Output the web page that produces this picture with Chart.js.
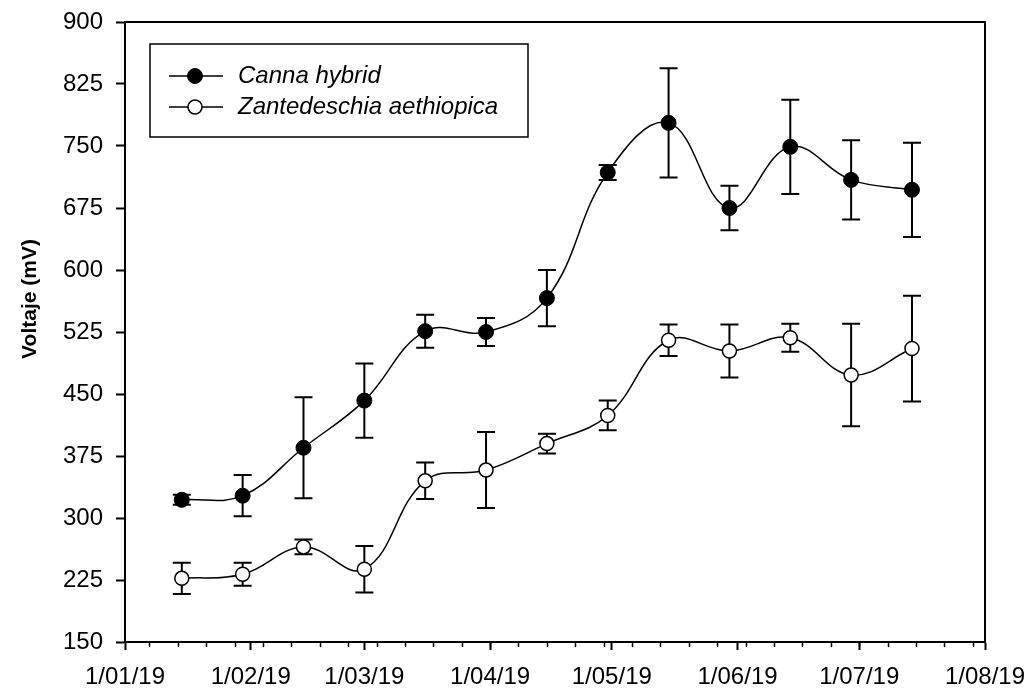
<!DOCTYPE html>
<html lang="es">
<head>
<meta charset="UTF-8">
<title>Voltaje (mV)</title>
<script src="https://cdn.jsdelivr.net/npm/chart.js"></script>
<style>
    body { margin: 0; background: #fff; }
    #wrap { position: relative; width: 1031px; height: 690px; }
</style>
</head>
<body>
<div id="wrap"><canvas id="chart" width="1031" height="690"></canvas></div>
<script>
// sampling dates (every 15 days)
const sampleDates = ['2019-01-15', '2019-01-30', '2019-02-14', '2019-03-01', '2019-03-16', '2019-03-31', '2019-04-15',
                     '2019-04-30', '2019-05-15', '2019-05-30', '2019-06-14', '2019-06-29', '2019-07-14'];

const cannaValues = [322, 327, 385, 442, 526, 525, 566, 718, 778, 675, 749, 709, 697];
const cannaErrors = [6, 25, 61, 45, 20, 17, 34, 9, 66, 27, 57, 48, 57];

const zanteValues = [227, 232, 265, 238, 345, 358, 390, 424, 515, 502, 518, 473, 505];
const zanteErrors = [19, 14, 9, 28, 22, 46, 12, 18, 19, 32, 17, 62, 64];

const seriesNames = ['Canna hybrid', 'Zantedeschia aethiopica'];

const monthTicks = ['2019-01-01', '2019-02-01', '2019-03-01', '2019-04-01', '2019-05-01', '2019-06-01', '2019-07-01', '2019-08-01'];
const monthLabels = ['1/01/19', '1/02/19', '1/03/19', '1/04/19', '1/05/19', '1/06/19', '1/07/19', '1/08/19'];
const firstMonday = '2019-01-07';
const yTicks = [150, 225, 300, 375, 450, 525, 600, 675, 750, 825, 900];

const origin = Date.UTC(2019, 0, 1);
function dayOf(s) {
    const [yy, mm, dd] = s.split('-').map(Number);
    return (Date.UTC(yy, mm - 1, dd) - origin) / 86400000;
}

const monthDays = monthTicks.map(dayOf);
const mondays = [];
for (let d = dayOf(firstMonday); d < monthDays[monthDays.length - 1]; d += 7) mondays.push(d);

const FONT = 'Arial, "Liberation Sans", sans-serif';
Chart.defaults.font.family = FONT;
Chart.defaults.color = '#000';

// vertical error bars, drawn under the markers
const errorBars = {
    id: 'errorBars',
    beforeDatasetsDraw(chart) {
        const { ctx, scales: { x, y } } = chart;
        ctx.save();
        ctx.strokeStyle = '#000';
        ctx.lineWidth = 2;
        chart.data.datasets.forEach(ds => {
            ds.data.forEach((p, i) => {
                const e = ds.errors[i];
                const px = x.getPixelForValue(p.x);
                const top = y.getPixelForValue(p.y + e);
                const bot = y.getPixelForValue(p.y - e);
                ctx.beginPath();
                ctx.moveTo(px, top); ctx.lineTo(px, bot);
                ctx.moveTo(px - 9, top); ctx.lineTo(px + 9, top);
                ctx.moveTo(px - 9, bot); ctx.lineTo(px + 9, bot);
                ctx.stroke();
            });
        });
        ctx.restore();
    }
};

// frame, weekly minor ticks, y title and boxed legend
const decorations = {
    id: 'decorations',
    afterDraw(chart) {
        const { ctx, chartArea: a, scales: { x } } = chart;
        ctx.save();
        ctx.strokeStyle = '#000';
        ctx.lineWidth = 2;
        ctx.beginPath();
        ctx.moveTo(a.left, a.top); ctx.lineTo(a.right, a.top); ctx.lineTo(a.right, a.bottom);
        ctx.stroke();

        ctx.lineWidth = 1.5;
        ctx.beginPath();
        mondays.forEach(d => {
            const px = Math.round(x.getPixelForValue(d)) + 0.5;
            ctx.moveTo(px, a.bottom); ctx.lineTo(px, a.bottom + 5);
        });
        ctx.stroke();

        // y axis title
        ctx.save();
        ctx.translate(30, (a.top + a.bottom) / 2 - 33);
        ctx.rotate(-Math.PI / 2);
        ctx.font = 'bold 21px ' + FONT;
        ctx.fillStyle = '#000';
        ctx.textAlign = 'center';
        ctx.textBaseline = 'middle';
        ctx.fillText('Voltaje (mV)', 0, 0);
        ctx.restore();

        // legend
        const lx = a.left + 25, ly = a.top + 22;
        ctx.lineWidth = 1.5;
        ctx.strokeRect(lx, ly, 378, 93);
        ctx.font = 'italic 24px ' + FONT;
        ctx.textBaseline = 'middle';
        ctx.textAlign = 'left';
        chart.data.datasets.forEach((ds, i) => {
            const ry = ly + 32 + i * 31;
            ctx.lineWidth = ds.borderWidth;
            ctx.beginPath();
            ctx.moveTo(lx + 19, ry); ctx.lineTo(lx + 73, ry);
            ctx.stroke();
            ctx.beginPath();
            ctx.arc(lx + 45, ry, ds.pointRadius, 0, Math.PI * 2);
            ctx.fillStyle = ds.pointBackgroundColor;
            ctx.fill();
            ctx.lineWidth = ds.pointBorderWidth;
            ctx.stroke();
            ctx.fillStyle = '#000';
            ctx.fillText(ds.label, lx + 88, ry);
        });
        ctx.restore();
    }
};

const toPoints = vals => vals.map((v, i) => ({ x: dayOf(sampleDates[i]), y: v }));

new Chart(document.getElementById('chart'), {
    type: 'line',
    data: {
        datasets: [{
            label: seriesNames[0],
            data: toPoints(cannaValues),
            errors: cannaErrors,
            borderColor: '#000',
            borderWidth: 1.5,
            tension: 0.4,
            pointRadius: 7.5,
            pointBackgroundColor: '#000',
            pointBorderColor: '#000',
            pointBorderWidth: 1
        }, {
            label: seriesNames[1],
            data: toPoints(zanteValues),
            errors: zanteErrors,
            borderColor: '#000',
            borderWidth: 1.5,
            tension: 0.4,
            pointRadius: 7,
            pointBackgroundColor: '#fff',
            pointBorderColor: '#000',
            pointBorderWidth: 1.5
        }]
    },
    options: {
        responsive: false,
        animation: false,
        events: [],
        layout: { padding: { top: 22, right: 46, bottom: 0, left: 0 } },
        plugins: { legend: { display: false }, tooltip: { enabled: false } },
        scales: {
            x: {
                type: 'linear',
                min: monthDays[0],
                max: monthDays[monthDays.length - 1],
                afterBuildTicks: s => { s.ticks = monthDays.map(v => ({ value: v })); },
                afterFit: s => { s.height = 48; s.paddingLeft = 0; s.paddingRight = 0; },
                ticks: {
                    autoSkip: false,
                    maxRotation: 0,
                    padding: 13,
                    font: { size: 24 },
                    callback: v => monthLabels[monthDays.indexOf(v)]
                },
                grid: { drawOnChartArea: false, tickLength: 8, tickWidth: 2, tickColor: '#000' },
                border: { color: '#000', width: 2 }
            },
            y: {
                min: yTicks[0],
                max: yTicks[yTicks.length - 1],
                afterBuildTicks: s => { s.ticks = yTicks.map(v => ({ value: v })); },
                afterFit: s => { s.width = 125; s.paddingTop = 0; s.paddingBottom = 0; },
                ticks: { padding: 13, font: { size: 24 } },
                grid: { drawOnChartArea: false, tickLength: 9, tickWidth: 2, tickColor: '#000' },
                border: { color: '#000', width: 2 }
            }
        }
    },
    plugins: [errorBars, decorations]
});
</script>
</body>
</html>
